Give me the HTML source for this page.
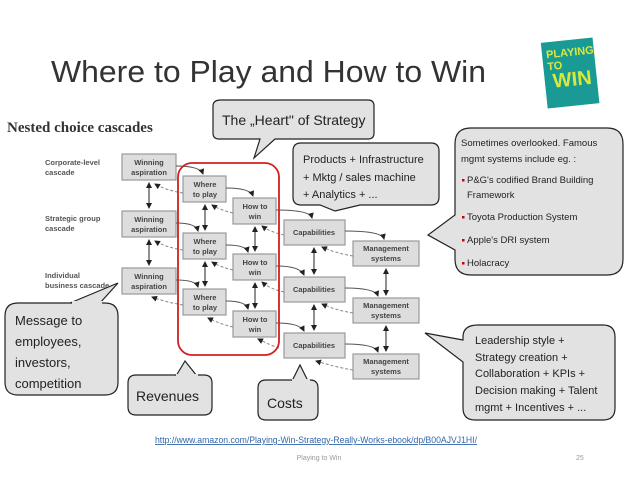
<!DOCTYPE html>
<html><head><meta charset="utf-8"><style>
html,body{margin:0;padding:0;background:#fff;}
svg{display:block;font-family:"Liberation Sans",sans-serif;}
</style></head><body>
<svg width="638" height="479" viewBox="0 0 638 479" xmlns="http://www.w3.org/2000/svg">
<defs>
<marker id="a" markerWidth="6" markerHeight="6" refX="5" refY="3" orient="auto"><path d="M0,0 L6,3 L0,6z" fill="#222"/></marker>
<marker id="b" markerWidth="6" markerHeight="6" refX="1" refY="3" orient="auto"><path d="M6,0 L0,3 L6,6z" fill="#222"/></marker>
</defs>
<text x="51" y="82" font-size="31" fill="#333" textLength="435" lengthAdjust="spacingAndGlyphs">Where to Play and How to Win</text>
<!-- book -->
<g transform="rotate(-6 570 72)">
<rect x="544" y="40" width="52" height="66" fill="#1a9a94"/>
<text x="548" y="56" font-size="11" font-weight="bold" fill="#d8e83a">PLAYING</text>
<text x="548" y="68" font-size="11" font-weight="bold" fill="#d8e83a">TO</text>
<text x="552" y="86" font-size="20" font-weight="bold" fill="#d8e83a">WIN</text>
</g>
<text x="7" y="132" font-family="Liberation Serif,serif" font-weight="bold" font-size="15" fill="#333">Nested choice cascades</text>
<g font-size="7.5" font-weight="bold" fill="#555">
<text x="45" y="165">Corporate-level</text><text x="45" y="175">cascade</text>
<text x="45" y="221">Strategic group</text><text x="45" y="231">cascade</text>
<text x="45" y="278">Individual</text><text x="45" y="288">business cascade</text>
</g>
<g fill="#ddd" stroke="#999" stroke-width="1.2">
<rect x="122" y="154" width="54" height="26"/><rect x="122" y="211" width="54" height="26"/><rect x="122" y="268" width="54" height="26"/>
<rect x="183" y="176" width="43" height="26"/><rect x="183" y="233" width="43" height="26"/><rect x="183" y="289" width="43" height="26"/>
<rect x="233" y="198" width="43" height="26"/><rect x="233" y="254" width="43" height="26"/><rect x="233" y="311" width="43" height="26"/>
<rect x="284" y="220" width="61" height="25"/><rect x="284" y="277" width="61" height="25"/><rect x="284" y="333" width="61" height="25"/>
<rect x="353" y="241" width="66" height="25"/><rect x="353" y="298" width="66" height="25"/><rect x="353" y="354" width="66" height="25"/>
</g>
<g font-size="7.5" font-weight="bold" fill="#444" text-anchor="middle">
<text x="149" y="165">Winning</text><text x="149" y="175">aspiration</text>
<text x="149" y="222">Winning</text><text x="149" y="232">aspiration</text>
<text x="149" y="279">Winning</text><text x="149" y="289">aspiration</text>
<text x="205" y="187">Where</text><text x="205" y="197">to play</text>
<text x="205" y="244">Where</text><text x="205" y="254">to play</text>
<text x="205" y="300">Where</text><text x="205" y="310">to play</text>
<text x="255" y="209">How to</text><text x="255" y="219">win</text>
<text x="255" y="265">How to</text><text x="255" y="275">win</text>
<text x="255" y="322">How to</text><text x="255" y="332">win</text>
<text x="314" y="235">Capabilities</text><text x="314" y="292">Capabilities</text><text x="314" y="348">Capabilities</text>
<text x="386" y="251">Management</text><text x="386" y="261">systems</text>
<text x="386" y="308">Management</text><text x="386" y="318">systems</text>
<text x="386" y="364">Management</text><text x="386" y="374">systems</text>
</g>
<g stroke="#222" stroke-width="1" fill="none" marker-end="url(#a)" marker-start="url(#b)">
<line x1="149" y1="183" x2="149" y2="208"/><line x1="149" y1="240" x2="149" y2="265"/>
<line x1="205" y1="205" x2="205" y2="230"/><line x1="205" y1="262" x2="205" y2="286"/>
<line x1="255" y1="227" x2="255" y2="251"/><line x1="255" y1="283" x2="255" y2="308"/>
<line x1="314" y1="248" x2="314" y2="274"/><line x1="314" y1="305" x2="314" y2="330"/>
<line x1="386" y1="269" x2="386" y2="295"/><line x1="386" y1="326" x2="386" y2="351"/>
</g>
<g stroke="#555" stroke-width="1" fill="none" marker-end="url(#a)">
<path d="M176,166 Q200,166 203,174"/><path d="M176,223 Q196,223 198,231"/><path d="M176,280 Q196,280 198,287"/>
<path d="M226,188 Q250,188 253,196"/><path d="M226,245 Q246,245 248,252"/><path d="M226,301 Q246,301 248,309"/>
<path d="M276,210 Q310,210 312,218"/><path d="M276,266 Q300,266 304,275"/><path d="M276,323 Q300,323 304,331"/>
<path d="M345,231 Q382,231 384,239"/><path d="M345,288 Q375,288 378,296"/><path d="M345,344 Q375,344 378,352"/>
</g>
<g stroke="#888" stroke-width="1" fill="none" stroke-dasharray="3,2" marker-end="url(#a)">
<path d="M183,193 Q165,190 155,184"/><path d="M183,250 Q165,247 155,241"/><path d="M183,305 Q165,302 152,297"/>
<path d="M233,213 Q220,210 212,205"/><path d="M233,270 Q220,267 212,262"/><path d="M233,327 Q220,324 208,318"/>
<path d="M284,235 Q270,232 262,226"/><path d="M284,292 Q270,289 262,282"/><path d="M279,348 Q270,345 258,339"/>
<path d="M353,256 Q335,253 322,247"/><path d="M353,313 Q335,310 322,304"/><path d="M353,370 Q335,367 316,361"/>
</g>
<rect x="178" y="163" width="101" height="192" rx="14" fill="none" stroke="#d02020" stroke-width="1.8"/>
<!-- callouts -->
<g fill="#e2e2e2" stroke="#222" stroke-width="1.2">
<path d="M221,100 H368 Q374,100 374,106 V133 Q374,139 368,139 H275 L254,158 L260,139 H219 Q213,139 213,133 V106 Q213,100 221,100Z"/>
<path d="M301,143 H431 Q439,143 439,151 V197 Q439,205 431,205 H360 L335,211 L320,205 H301 Q293,205 293,197 V151 Q293,143 301,143Z"/>
<path d="M471,128 H607 Q623,128 623,144 V259 Q623,275 607,275 H471 Q455,275 455,259 V250 L428,235 L455,215 V144 Q455,128 471,128Z"/>
<path d="M478,325 H603 Q615,325 615,337 V408 Q615,420 603,420 H475 Q463,420 463,408 V362 L425,333 L463,340 V337 Q463,325 478,325Z"/>
<path d="M18,303 H105 Q118,303 118,316 V382 Q118,395 105,395 H18 Q5,395 5,382 V316 Q5,303 18,303Z M70,303 L118,283 L100,303"/>
<path d="M136,375 H204 Q212,375 212,383 V407 Q212,415 204,415 H136 Q128,415 128,407 V383 Q128,375 136,375Z"/>
<path d="M266,380 H310 Q318,380 318,388 V412 Q318,420 310,420 H266 Q258,420 258,412 V388 Q258,380 266,380Z"/>
</g>
<path d="M176,376 L185,361 L197,376" fill="#e2e2e2" stroke="#222" stroke-width="1.2"/>
<path d="M292,381 L300,365 L308,381" fill="#e2e2e2" stroke="#222" stroke-width="1.2"/>
<rect x="176" y="374" width="22" height="4" fill="#e2e2e2"/>
<rect x="292" y="379" width="18" height="4" fill="#e2e2e2"/>
<rect x="72" y="301" width="30" height="4" fill="#e2e2e2"/>
<g fill="#222">
<text x="222" y="125" font-size="14">The „Heart" of Strategy</text>
<text x="303" y="163" font-size="11">Products + Infrastructure</text>
<text x="303" y="181" font-size="11">+ Mktg / sales machine</text>
<text x="303" y="198" font-size="11">+ Analytics + ...</text>
<g font-size="9.5">
<text x="461" y="146">Sometimes overlooked. Famous</text>
<text x="461" y="162">mgmt systems include eg. :</text>
<text x="467" y="183">P&amp;G's codified Brand Building</text>
<text x="467" y="198">Framework</text>
<text x="467" y="220">Toyota Production System</text>
<text x="467" y="243">Apple's DRI system</text>
<text x="467" y="266">Holacracy</text>
</g>
<g font-size="11">
<text x="475" y="344">Leadership style +</text>
<text x="475" y="361">Strategy creation +</text>
<text x="475" y="377">Collaboration + KPIs +</text>
<text x="475" y="394">Decision making + Talent</text>
<text x="475" y="411">mgmt + Incentives +  ...</text>
</g>
<g font-size="13">
<text x="15" y="325">Message to</text><text x="15" y="346">employees,</text><text x="15" y="367">investors,</text><text x="15" y="388">competition</text>
</g>
<text x="136" y="401" font-size="14">Revenues</text>
<text x="267" y="408" font-size="14">Costs</text>
</g>
<g fill="#c00"><rect x="462" y="179" width="2.5" height="2.5"/><rect x="462" y="216" width="2.5" height="2.5"/><rect x="462" y="239" width="2.5" height="2.5"/><rect x="462" y="262" width="2.5" height="2.5"/></g>
<text x="155" y="443" font-size="9" fill="#3366aa" text-decoration="underline" textLength="322" lengthAdjust="spacingAndGlyphs">http://www.amazon.com/Playing-Win-Strategy-Really-Works-ebook/dp/B00AJVJ1HI/</text>
<text x="319" y="460" font-size="7" fill="#999" text-anchor="middle">Playing to Win</text>
<text x="576" y="460" font-size="7" fill="#999">25</text>
</svg>
</body></html>
